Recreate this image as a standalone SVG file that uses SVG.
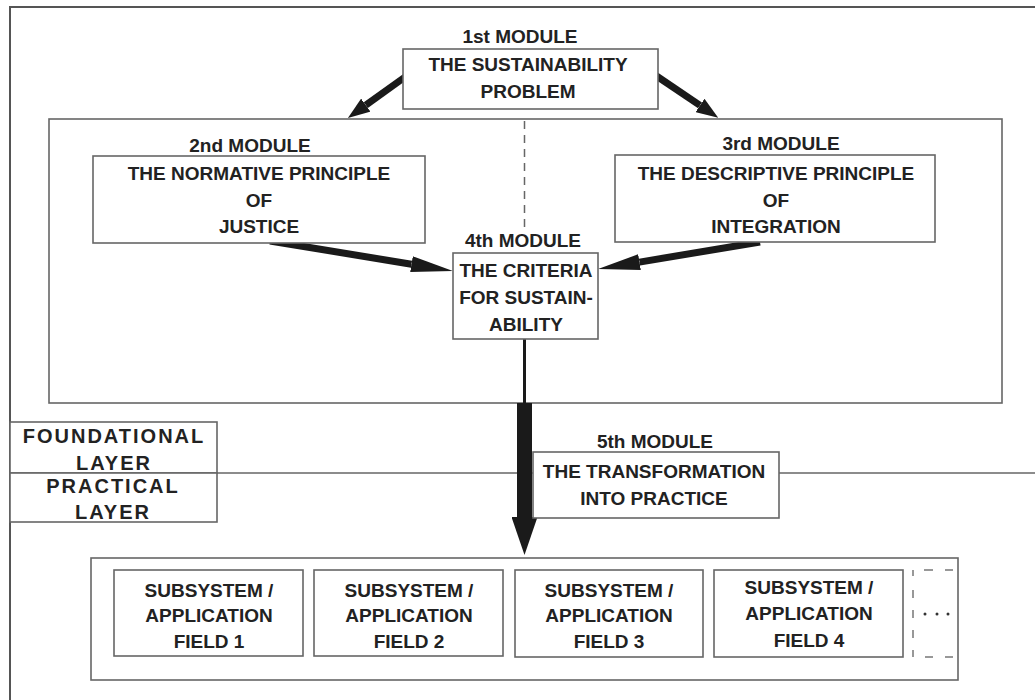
<svg xmlns="http://www.w3.org/2000/svg" width="1035" height="700" viewBox="0 0 1035 700">
<style>
text{font-family:"Liberation Sans",Arial,sans-serif;font-weight:bold;font-size:19px;fill:#222;text-anchor:middle}
.lay{font-size:20px;letter-spacing:2px}
.box{fill:#fff;stroke:#666;stroke-width:1.6}
.frame{fill:none;stroke:#555;stroke-width:2}
.sep{fill:none;stroke:#666;stroke-width:1.6}
.dash{fill:none;stroke:#666;stroke-width:1.5;stroke-dasharray:8 6}
.arr{stroke:#1a1a1a;fill:none}
</style>
<defs>
<marker id="ahS" markerUnits="userSpaceOnUse" markerWidth="22" markerHeight="16" refX="0" refY="8" orient="auto"><path d="M0,0 L22,8 L0,16 z" fill="#1a1a1a"/></marker>
<marker id="ahL" markerUnits="userSpaceOnUse" markerWidth="42" markerHeight="16" refX="0" refY="8" orient="auto"><path d="M0,0 L42,8 L0,16 z" fill="#1a1a1a"/></marker>
<marker id="ahD" markerUnits="userSpaceOnUse" markerWidth="38" markerHeight="26" refX="0" refY="13" orient="auto"><path d="M0,0 L38,13 L0,26 z" fill="#1a1a1a"/></marker>
</defs>
<rect width="1035" height="700" fill="#fff"/>
<rect class="frame" x="10" y="7" width="1045" height="720"/>
<g id="foundation-area">
<rect class="box" x="49" y="119" width="953" height="284"/>
<line class="dash" x1="524.5" y1="121" x2="524.5" y2="232"/>
</g>
<line id="layer-divider" class="sep" x1="10" y1="473" x2="1035" y2="473"/>
<g id="connectors">
<line class="arr" stroke-width="7" x1="405" y1="77" x2="365.8" y2="105.1" marker-end="url(#ahS)"/>
<line class="arr" stroke-width="7" x1="655" y1="75" x2="700" y2="105.4" marker-end="url(#ahS)"/>
<line class="arr" stroke-width="7" x1="270" y1="241" x2="411.5" y2="264.2" marker-end="url(#ahL)"/>
<line class="arr" stroke-width="7" x1="760" y1="242" x2="639.5" y2="262.1" marker-end="url(#ahL)"/>
<line class="arr" stroke-width="3" x1="524.5" y1="339" x2="524.5" y2="404"/>
<line class="arr" stroke-width="15" x1="524.5" y1="403" x2="524.5" y2="517" marker-end="url(#ahD)"/>
</g>
<g id="module1">
<text x="520" y="43">1st MODULE</text>
<rect class="box" x="403" y="49" width="255" height="60"/>
<text x="528" y="71">THE SUSTAINABILITY</text>
<text x="528" y="98">PROBLEM</text>
</g>
<g id="module2">
<text x="250" y="152">2nd MODULE</text>
<rect class="box" x="93" y="156" width="332" height="87"/>
<text x="259" y="180">THE NORMATIVE PRINCIPLE</text>
<text x="259" y="207">OF</text>
<text x="259" y="233">JUSTICE</text>
</g>
<g id="module3">
<text x="781" y="150">3rd MODULE</text>
<rect class="box" x="615" y="155" width="320" height="87"/>
<text x="776" y="180">THE DESCRIPTIVE PRINCIPLE</text>
<text x="776" y="207">OF</text>
<text x="776" y="233">INTEGRATION</text>
</g>
<g id="module4">
<text x="523" y="247">4th MODULE</text>
<rect class="box" x="453" y="253" width="145" height="86"/>
<text x="526" y="277">THE CRITERIA</text>
<text x="526" y="304">FOR SUSTAIN-</text>
<text x="526" y="331">ABILITY</text>
</g>
<g id="foundational-layer">
<rect class="box" x="10" y="422" width="207" height="51"/>
<text class="lay" x="114" y="443">FOUNDATIONAL</text>
<text class="lay" x="114" y="470">LAYER</text>
</g>
<g id="practical-layer">
<rect class="box" x="10" y="473" width="207" height="49"/>
<text class="lay" x="113" y="493">PRACTICAL</text>
<text class="lay" x="113" y="519">LAYER</text>
</g>
<g id="module5">
<text x="655" y="448">5th MODULE</text>
<rect class="box" x="533" y="452" width="246" height="66"/>
<text x="654" y="478">THE TRANSFORMATION</text>
<text x="654" y="505">INTO PRACTICE</text>
</g>
<g id="subsystems">
<rect class="box" x="91" y="558" width="867" height="122"/>
</g>
<g id="field1">
<rect class="box" x="114" y="570" width="189" height="86"/>
<text x="209" y="597">SUBSYSTEM /</text>
<text x="209" y="622">APPLICATION</text>
<text x="209" y="648">FIELD 1</text>
</g>
<g id="field2">
<rect class="box" x="314" y="570" width="189" height="86"/>
<text x="409" y="597">SUBSYSTEM /</text>
<text x="409" y="622">APPLICATION</text>
<text x="409" y="648">FIELD 2</text>
</g>
<g id="field3">
<rect class="box" x="515" y="570" width="188" height="87"/>
<text x="609" y="597">SUBSYSTEM /</text>
<text x="609" y="622">APPLICATION</text>
<text x="609" y="648">FIELD 3</text>
</g>
<g id="field4">
<rect class="box" x="714" y="570" width="189" height="87"/>
<text x="809" y="594">SUBSYSTEM /</text>
<text x="809" y="620">APPLICATION</text>
<text x="809" y="647">FIELD 4</text>
</g>
<g id="field-more">
<path d="M913,570 V576 M913,590 V598 M913,610 V618 M913,630 V638 M913,650 V657 M924,570 H933 M945,570 H953 M925,657 H933 M945,657 H953" fill="none" stroke="#777" stroke-width="1.5"/>
<circle cx="925" cy="614" r="1.5" fill="#333"/>
<circle cx="937" cy="614" r="1.5" fill="#333"/>
<circle cx="948" cy="614" r="1.5" fill="#333"/>
</g>
</svg>
